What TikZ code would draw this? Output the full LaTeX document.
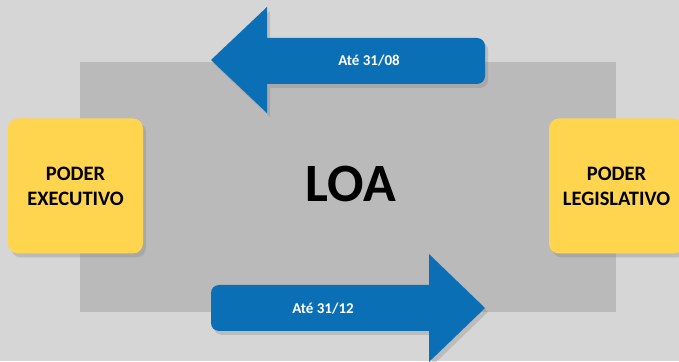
\documentclass[tikz,border=0pt]{standalone}
\usepackage{fontspec}
\setmainfont{Carlito}
\usepackage{xcolor}
\usetikzlibrary{shadows}
\definecolor{paper}{HTML}{D6D6D6}
\definecolor{stage}{HTML}{BABABA}
\definecolor{arrowblue}{HTML}{0B6FB6}
\definecolor{poder}{HTML}{FFD54F}
\tikzset{%
  % Specifications for style of nodes:
      poderbox/.style = {rectangle, rounded corners=10pt, fill=poder,
                         minimum width=135pt, minimum height=135pt,
                         align=center, font=\bfseries\fontsize{20.5}{25}\selectfont,
                         drop shadow={shadow xshift=3pt, shadow yshift=-4pt,
                                      opacity=0.3}},
    arrowshape/.style = {fill=arrowblue,
                         drop shadow={shadow xshift=3pt, shadow yshift=-4pt,
                                      opacity=0.3}},
    arrowlabel/.style = {text=white, font=\bfseries\fontsize{15}{17}\selectfont},
}

\begin{document}
\begin{tikzpicture}[x=1pt, y=1pt]
  % Background and central area
  \clip (0,0) rectangle (679,361);
  \fill[paper] (0,0) rectangle (679,361);
  \fill[stage] (80,49) rectangle (616,299);
  \node (loa) at (351,177) {\bfseries\fontsize{54}{60}\selectfont LOA};
  % Specification of nodes (position, etc.)
  \node (executivo)  [poderbox] at (75.5,175) {PODER\\EXECUTIVO};
  \node (legislativo)[poderbox] at (616.5,175) {PODER\\LEGISLATIVO};
  % Arrows with their deadlines
  \path[arrowshape] (211,301) -- (267,354) -- (267,323) -- (477,323)
    arc[start angle=90, end angle=0, radius=8pt] -- (485,285)
    arc[start angle=0, end angle=-90, radius=8pt] -- (267,277)
    -- (267,248) -- cycle;
  \node (prazo1) [arrowlabel] at (369,300) {Até 31/08};
  \path[arrowshape] (219,76) -- (429,76) -- (429,107) -- (485,53)
    -- (429,-1) -- (429,30) -- (219,30)
    arc[start angle=270, end angle=180, radius=8pt] -- (211,68)
    arc[start angle=180, end angle=90, radius=8pt] -- cycle;
  \node (prazo2) [arrowlabel] at (323,52) {Até 31/12};
\end{tikzpicture}
\end{document}
